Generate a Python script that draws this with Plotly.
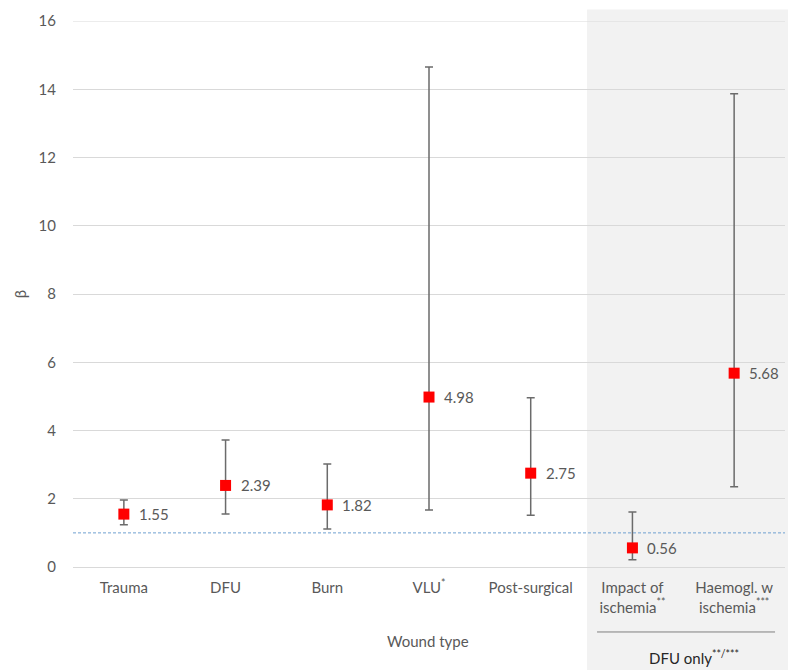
import plotly.graph_objects as go

categories = ["Trauma", "DFU", "Burn", "VLU<sup>*</sup>", "Post-surgical",
              "Impact of<br>ischemia<sup>**</sup>", "Haemogl. w<br>ischemia<sup>***</sup>"]
beta = [1.55, 2.39, 1.82, 4.98, 2.75, 0.56, 5.68]
lower = [1.24, 1.55, 1.11, 1.67, 1.52, 0.21, 2.35]
upper = [1.96, 3.72, 3.02, 14.65, 4.96, 1.61, 13.87]
y_ticks = [0, 2, 4, 6, 8, 10, 12, 14, 16]

x_idx = list(range(len(categories)))
err_plus = [u - b for u, b in zip(upper, beta)]
err_minus = [b - l for b, l in zip(beta, lower)]
labels = [f"{b:.2f}" for b in beta]

FONT = "Lato"
GREY = "#595959"

fig = go.Figure()
fig.add_trace(go.Scatter(
    x=x_idx, y=beta, mode="markers",
    marker=dict(symbol="square", size=11, color="#ff0000"),
    error_y=dict(type="data", symmetric=False, array=err_plus, arrayminus=err_minus,
                 color="#6b6b6b", thickness=1.5, width=4),
    cliponaxis=False, showlegend=False,
))

annotations = [
    dict(x=xi, y=b, xref="x", yref="y", text=t, showarrow=False, xanchor="left",
         yanchor="middle", xshift=13, font=dict(family=FONT, size=15, color=GREY))
    for xi, b, t in zip(x_idx, beta, labels)
]
annotations += [
    dict(text="β", xref="paper", yref="paper", x=-0.074, y=0.5, showarrow=False,
         xanchor="center", yanchor="middle", textangle=-90, font=dict(size=15, color=GREY)),
    dict(text="Wound type", xref="paper", yref="paper", x=0.498, y=-0.135, showarrow=False,
         xanchor="center", yanchor="middle", font=dict(size=15, color=GREY)),
    dict(text="DFU only<sup>**/***</sup>", xref="paper", yref="paper", x=0.872, y=-0.165,
         showarrow=False, xanchor="center", yanchor="middle", font=dict(size=15, color="#262626")),
]

fig.update_layout(
    width=788, height=670,
    margin=dict(l=73, r=3, t=21, b=103),
    paper_bgcolor="white", plot_bgcolor="rgba(0,0,0,0)",
    font=dict(family=FONT, color=GREY, size=15),
    xaxis=dict(range=[-0.5, 6.5], tickmode="array", tickvals=x_idx, ticktext=categories,
               showgrid=False, zeroline=False, showline=False, ticks="",
               tickfont=dict(size=15, color=GREY), ticklabelstandoff=10),
    yaxis=dict(range=[0, 16], tickvals=y_ticks, showgrid=True, gridcolor="#d9d9d9",
               gridwidth=1, zeroline=True, zerolinecolor="#d9d9d9", zerolinewidth=1,
               showline=False, ticks="",
               tickfont=dict(size=15, color=GREY), ticklabelstandoff=16),
    shapes=[
        dict(type="rect", xref="paper", yref="paper", x0=0.722, x1=1.01, y0=-0.2, y1=1.021,
             fillcolor="#f2f2f2", line=dict(width=0), layer="below"),
        dict(type="line", xref="paper", yref="y", x0=0, x1=1, y0=16, y1=16,
             line=dict(color="#d9d9d9", width=1), layer="below"),
        dict(type="line", xref="paper", yref="y", x0=0, x1=1, y0=1, y1=1,
             line=dict(color="#6fa0d0", width=1, dash="3px,2px")),
        dict(type="line", xref="paper", yref="paper", x0=0.736, x1=0.986, y0=-0.119, y1=-0.119,
             line=dict(color="#7f7f7f", width=1)),
    ],
    annotations=annotations,
)

fig.write_html("out.html")
